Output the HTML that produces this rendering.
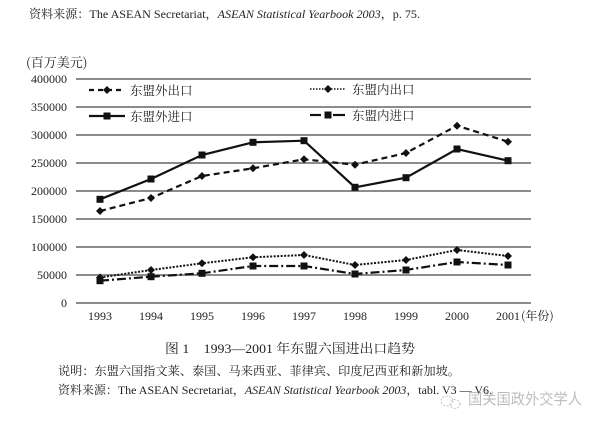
<!DOCTYPE html>
<html><head><meta charset="utf-8"><style>
html,body{margin:0;padding:0;background:#fff;}
body{width:600px;height:424px;overflow:hidden;}
svg{display:block;}
</style></head><body>
<svg width="600" height="424" viewBox="0 0 600 424" xmlns="http://www.w3.org/2000/svg">
<rect width="600" height="424" fill="#fff"/>
<g font-family="'Liberation Serif','Noto Serif CJK SC',serif" fill="#222">
<text x="29" y="18" font-size="12" textLength="391" lengthAdjust="spacingAndGlyphs"><tspan font-family="'Noto Serif CJK SC',serif">资料来源：</tspan>The ASEAN Secretariat，<tspan font-style="italic">ASEAN Statistical Yearbook 2003</tspan>，p. 75.</text>
<text x="26" y="67" font-size="13" font-family="'Noto Serif CJK SC',serif">(百万美元)</text>
</g>
<!-- gridlines -->
<g stroke="#666" stroke-width="1.5">
<line x1="76" x2="531" y1="79" y2="79"/>
<line x1="76" x2="531" y1="107" y2="107"/>
<line x1="76" x2="531" y1="135" y2="135"/>
<line x1="76" x2="531" y1="163" y2="163"/>
<line x1="76" x2="531" y1="191" y2="191"/>
<line x1="76" x2="531" y1="219" y2="219"/>
<line x1="76" x2="531" y1="247" y2="247"/>
<line x1="76" x2="531" y1="275" y2="275"/>
<line x1="76" x2="531" y1="303" y2="303"/>
</g>
<g font-family="'Liberation Serif',serif" font-size="12" fill="#222" text-anchor="end">
<text x="67" y="83">400000</text>
<text x="67" y="111">350000</text>
<text x="67" y="139">300000</text>
<text x="67" y="167">250000</text>
<text x="67" y="195">200000</text>
<text x="67" y="223">150000</text>
<text x="67" y="251">100000</text>
<text x="67" y="279">50000</text>
<text x="67" y="307">0</text>
</g>
<g font-family="'Liberation Serif',serif" font-size="12" fill="#222" text-anchor="middle">
<text x="100" y="320">1993</text>
<text x="151" y="320">1994</text>
<text x="202" y="320">1995</text>
<text x="253" y="320">1996</text>
<text x="304" y="320">1997</text>
<text x="355" y="320">1998</text>
<text x="406" y="320">1999</text>
<text x="457" y="320">2000</text>
<text x="508" y="320">2001</text>
</g>
<text x="521" y="320" font-size="12" font-family="'Noto Serif CJK SC',serif" fill="#222">(年份)</text>

<!-- series: external exports dashed -->
<polyline fill="none" stroke="#111" stroke-width="2.2" stroke-dasharray="6,4" points="100,211 151,198 202,176 253,168.3 304,159.3 355,164.7 406,153 457,125.7 508,141.7"/>
<g fill="#111">
<path d="M100,207 l4,4 l-4,4 l-4,-4z"/><path d="M151,194 l4,4 l-4,4 l-4,-4z"/><path d="M202,172 l4,4 l-4,4 l-4,-4z"/><path d="M253,164.3 l4,4 l-4,4 l-4,-4z"/><path d="M304,155.3 l4,4 l-4,4 l-4,-4z"/><path d="M355,160.7 l4,4 l-4,4 l-4,-4z"/><path d="M406,149 l4,4 l-4,4 l-4,-4z"/><path d="M457,121.7 l4,4 l-4,4 l-4,-4z"/><path d="M508,137.7 l4,4 l-4,4 l-4,-4z"/>
</g>
<!-- external imports solid -->
<polyline fill="none" stroke="#111" stroke-width="2.2" points="100,199.3 151,179 202,155 253,142.3 304,140.7 355,187.3 406,177.7 457,149 508,160.7"/>
<g fill="#111">
<rect x="96.5" y="195.8" width="7" height="7"/><rect x="147.5" y="175.5" width="7" height="7"/><rect x="198.5" y="151.5" width="7" height="7"/><rect x="249.5" y="138.8" width="7" height="7"/><rect x="300.5" y="137.2" width="7" height="7"/><rect x="351.5" y="183.8" width="7" height="7"/><rect x="402.5" y="174.2" width="7" height="7"/><rect x="453.5" y="145.5" width="7" height="7"/><rect x="504.5" y="157.2" width="7" height="7"/>
</g>
<!-- internal exports dotted -->
<polyline fill="none" stroke="#111" stroke-width="2" stroke-dasharray="2,1.5" points="100,277.5 151,270 202,263.3 253,257.3 304,255 355,265 406,260 457,250 508,256"/>
<g fill="#111">
<path d="M100,273.5 l4,4 l-4,4 l-4,-4z"/><path d="M151,266 l4,4 l-4,4 l-4,-4z"/><path d="M202,259.3 l4,4 l-4,4 l-4,-4z"/><path d="M253,253.3 l4,4 l-4,4 l-4,-4z"/><path d="M304,251 l4,4 l-4,4 l-4,-4z"/><path d="M355,261 l4,4 l-4,4 l-4,-4z"/><path d="M406,256 l4,4 l-4,4 l-4,-4z"/><path d="M457,246 l4,4 l-4,4 l-4,-4z"/><path d="M508,252 l4,4 l-4,4 l-4,-4z"/>
</g>
<!-- internal imports dash-dot -->
<polyline fill="none" stroke="#111" stroke-width="2.2" stroke-dasharray="9,3,2,3" points="100,280.7 151,276.7 202,273.3 253,266 304,266 355,274 406,270 457,262 508,265"/>
<g fill="#111">
<rect x="96.5" y="277.2" width="7" height="7"/><rect x="147.5" y="273.2" width="7" height="7"/><rect x="198.5" y="269.8" width="7" height="7"/><rect x="249.5" y="262.5" width="7" height="7"/><rect x="300.5" y="262.5" width="7" height="7"/><rect x="351.5" y="270.5" width="7" height="7"/><rect x="402.5" y="266.5" width="7" height="7"/><rect x="453.5" y="258.5" width="7" height="7"/><rect x="504.5" y="261.5" width="7" height="7"/>
</g>

<!-- legend -->
<g>
<line x1="89" x2="125" y1="90" y2="90" stroke="#111" stroke-width="2.2" stroke-dasharray="5,4"/>
<path d="M107,86 l4,4 l-4,4 l-4,-4z" fill="#111"/>
<line x1="89" x2="125" y1="116" y2="116" stroke="#111" stroke-width="2.2"/>
<rect x="103.5" y="112.5" width="7" height="7" fill="#111"/>
<line x1="310" x2="345" y1="89" y2="89" stroke="#111" stroke-width="1.6" stroke-dasharray="1.5,1.5"/>
<path d="M328,85 l4,4 l-4,4 l-4,-4z" fill="#111"/>
<line x1="310" x2="321" y1="115" y2="115" stroke="#111" stroke-width="2.2"/>
<line x1="333" x2="345" y1="115" y2="115" stroke="#111" stroke-width="2.2"/>
<rect x="324.5" y="111.5" width="7" height="7" fill="#111"/>
<g font-family="'Noto Serif CJK SC',serif" font-size="12.5" fill="#222">
<text x="130" y="95">东盟外出口</text>
<text x="130" y="121">东盟外进口</text>
<text x="352" y="94">东盟内出口</text>
<text x="352" y="120">东盟内进口</text>
</g>
</g>

<!-- captions -->
<g font-family="'Liberation Serif','Noto Serif CJK SC',serif" fill="#222">
<text x="165" y="353" font-size="13" textLength="250" lengthAdjust="spacingAndGlyphs"><tspan font-family="'Noto Serif CJK SC',serif">图</tspan> 1<tspan dx="14">1993—2001</tspan> <tspan font-family="'Noto Serif CJK SC',serif">年东盟六国进出口趋势</tspan></text>
<text x="58" y="375" font-size="12" font-family="'Noto Serif CJK SC',serif" textLength="402" lengthAdjust="spacingAndGlyphs">说明：东盟六国指文莱、泰国、马来西亚、菲律宾、印度尼西亚和新加坡。</text>
<text x="58" y="394" font-size="12" textLength="434" lengthAdjust="spacingAndGlyphs"><tspan font-family="'Noto Serif CJK SC',serif">资料来源：</tspan>The ASEAN Secretariat，<tspan font-style="italic">ASEAN Statistical Yearbook 2003</tspan>，tabl. V3 — V6.</text>
</g>
<!-- watermark -->
<g opacity="0.55">
<ellipse cx="447" cy="401" rx="6" ry="5" fill="none" stroke="#999" stroke-width="1.1" stroke-dasharray="2,1.5"/>
<ellipse cx="455" cy="404" rx="5" ry="4.5" fill="none" stroke="#999" stroke-width="1.1" stroke-dasharray="2,1.5"/>
<text x="468" y="404" font-family="'Noto Sans CJK SC',sans-serif" font-size="15" fill="#888" textLength="114" lengthAdjust="spacingAndGlyphs">国关国政外交学人</text>
</g>
</svg>
</body></html>
